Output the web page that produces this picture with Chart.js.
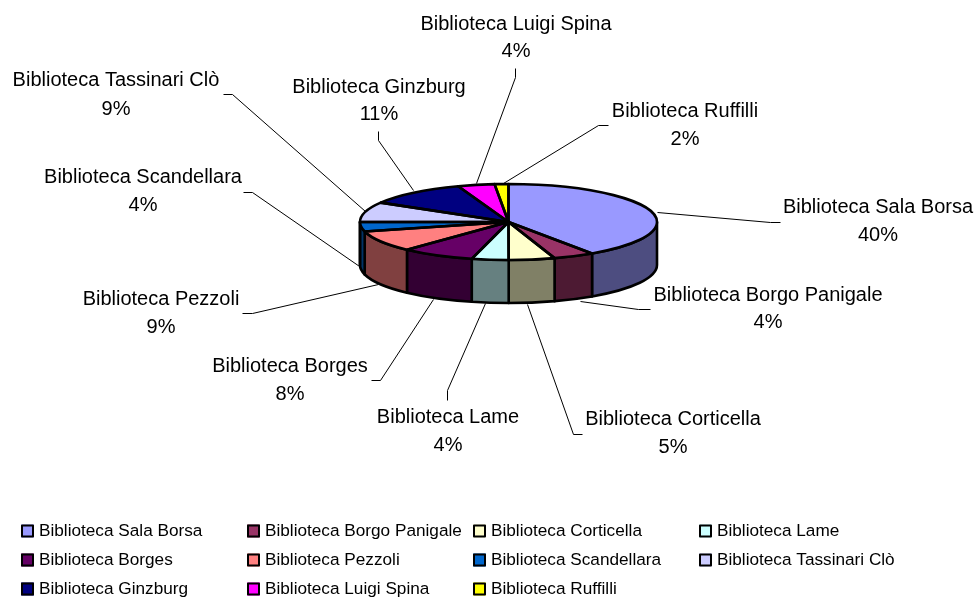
<!DOCTYPE html>
<html>
<head>
<meta charset="utf-8">
<style>html,body{margin:0;padding:0;background:#fff}canvas{display:block}</style>
<script src="https://cdn.jsdelivr.net/npm/chart.js@4"></script>
</head>
<body>
<canvas id="c" width="977" height="598"></canvas>
<script>
const categories = ["Biblioteca Sala Borsa","Biblioteca Borgo Panigale","Biblioteca Corticella","Biblioteca Lame","Biblioteca Borges","Biblioteca Pezzoli","Biblioteca Scandellara","Biblioteca Tassinari Clò","Biblioteca Ginzburg","Biblioteca Luigi Spina","Biblioteca Ruffilli"];
const shares = [40.49,4.49,5.0,4.0,8.0,9.0,4.0,8.52,11.0,4.0,1.5];
const colours = ["#9999FF","#993366","#FFFFCC","#CCFFFF","#660066","#FF8080","#0066CC","#CCCCFF","#000080","#FF00FF","#FFFF00"];

// Layout only: label centre x, name-line y, percent-line y, and the leader polyline.
const callouts = [
  {x:878,y1:207,y2:235,line:[[657,212],[770,222],[780,222]]},
  {x:768,y1:295,y2:322,line:[[580,301],[638,309],[650,309]]},
  {x:673,y1:419,y2:447,line:[[527,304],[573,434],[582,434]]},
  {x:448,y1:417,y2:445,line:[[485,303],[447,390],[447,400]]},
  {x:290,y1:366,y2:394,line:[[433,299],[380,380],[371,380]]},
  {x:161,y1:299,y2:327,line:[[378,284],[252,313],[242,313]]},
  {x:143,y1:177,y2:205,line:[[362,268],[252,192],[243,192]]},
  {x:116,y1:80,y2:109,line:[[365,211],[232,94],[223,94]]},
  {x:379,y1:87,y2:114,line:[[413,190],[378,140],[378,131]]},
  {x:516,y1:24,y2:51,line:[[476,183],[515,77],[515,68]]},
  {x:685,y1:111,y2:139,line:[[503,183],[598,125],[608,125]]}
];
const legendLayout = {x0:21,dx:226,y0:531,dy:29,cols:4,box:13,textGap:18};
const squash = 38/148.5, depth = 43;
const FONT = '"Liberation Sans", Arial, sans-serif';

function darker(hex){
  const n=parseInt(hex.slice(1),16);
  const h=v=>Math.round(v/2).toString(16).padStart(2,'0');
  return '#'+h(n>>16&255)+h(n>>8&255)+h(n&255);
}

const pie3d = {
  id:'pie3d',
  beforeDatasetsDraw(chart){
    const ctx=chart.ctx, arcs=chart.getDatasetMeta(0).data;
    const a0=arcs[0], cx=a0.x, cy=a0.y, r=a0.outerRadius, ry=r*squash;
    ctx.save();
    ctx.strokeStyle='#000';ctx.lineWidth=1;
    callouts.forEach(c=>{
      ctx.beginPath();
      c.line.forEach((p,i)=>i?ctx.lineTo(p[0]+.5,p[1]+.5):ctx.moveTo(p[0]+.5,p[1]+.5));
      ctx.stroke();
    });
    ctx.lineWidth=2.6;ctx.lineJoin='round';
    arcs.forEach((arc,i)=>{
      const a=Math.max(arc.startAngle,0), b=Math.min(arc.endAngle,Math.PI);
      if(a>=b) return;
      ctx.beginPath();
      ctx.ellipse(cx,cy,r,ry,0,a,b);
      ctx.ellipse(cx,cy+depth,r,ry,0,b,a,true);
      ctx.closePath();
      ctx.fillStyle=darker(colours[i]);
      ctx.fill();ctx.stroke();
    });
    ctx.restore();
    ctx.save();
    ctx.translate(cx,cy);ctx.scale(1,squash);ctx.translate(-cx,-cy);
  },
  afterDatasetsDraw(chart){
    const ctx=chart.ctx, arcs=chart.getDatasetMeta(0).data;
    ctx.restore();
    const a0=arcs[0], cx=a0.x, cy=a0.y, r=a0.outerRadius, ry=r*squash;
    ctx.save();
    ctx.strokeStyle='#000';ctx.lineWidth=2.6;ctx.lineJoin='round';
    arcs.forEach(arc=>{
      ctx.beginPath();
      ctx.moveTo(cx,cy);
      ctx.ellipse(cx,cy,r,ry,0,arc.startAngle,arc.endAngle);
      ctx.closePath();
      ctx.stroke();
    });
    ctx.fillStyle='#000';ctx.textAlign='center';ctx.textBaseline='middle';
    ctx.font='20px '+FONT;
    callouts.forEach((c,i)=>{
      ctx.fillText(categories[i],c.x,c.y1);
      ctx.fillText(Math.round(shares[i])+'%',c.x,c.y2);
    });
    const L=legendLayout;
    ctx.font='17.2px '+FONT;ctx.textAlign='left';
    categories.forEach((name,i)=>{
      const col=i%L.cols,row=Math.floor(i/L.cols);
      const x=L.x0+col*L.dx,y=L.y0+row*L.dy;
      ctx.fillStyle=colours[i];
      ctx.fillRect(x,y-L.box/2,L.box,L.box);
      ctx.strokeStyle='#000';ctx.lineWidth=2;
      ctx.strokeRect(x+1,y-L.box/2+1,L.box-2,L.box-2);
      ctx.fillStyle='#000';
      ctx.fillText(name,x+L.textGap,y);
    });
    ctx.restore();
  }
};

new Chart(document.getElementById('c'),{
  type:'pie',
  data:{labels:categories,datasets:[{data:shares,backgroundColor:colours,borderWidth:0}]},
  options:{
    responsive:false,animation:false,devicePixelRatio:1,
    layout:{padding:{left:360,right:320,top:73.5,bottom:227.5}},
    plugins:{legend:{display:false},tooltip:{enabled:false},title:{display:false}}
  },
  plugins:[pie3d]
});
</script>
</body>
</html>
